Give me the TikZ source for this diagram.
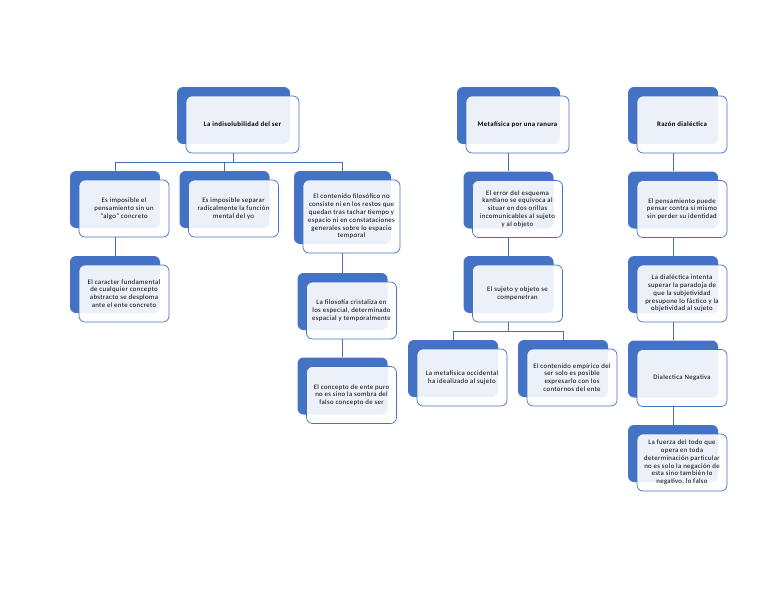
\documentclass[tikz,border=0pt]{standalone}
\usepackage{fontspec}
\setmainfont{Carlito}
\newfontfamily\boxfont[LetterSpace=5]{Carlito}
\usetikzlibrary{calc}
\definecolor{smblue}{HTML}{4472C4}
\definecolor{lnblue}{HTML}{4A6FB5}
\tikzset{
  backbox/.style={fill=smblue, draw=none, rounded corners=6pt, inner sep=0pt},
  frontbox/.style={draw=smblue, line width=0.7pt, fill=white, fill opacity=0.9, text opacity=1,
    rounded corners=6pt, inner sep=0pt, align=center, font=\boxfont\fontsize{6.8}{7.8}\selectfont, text=black},
  conn/.style={draw=lnblue, line width=0.7pt},
  titletext/.style={font=\boxfont\fontsize{6.8}{7.8}\selectfont\bfseries}
}
\newcommand\mkbox[7][]{%
  \node[backbox, minimum width=#5pt, minimum height=#6pt] (#2b) at (#3-9,#4-9) {};
  \node[frontbox, minimum width=#5pt, minimum height=#6pt, #1] (#2) at (#3,#4) {#7};
}
\begin{document}
\begin{tikzpicture}[x=1pt,y=-1pt]
\useasboundingbox (0,0) rectangle (768,594);
% left tree
\mkbox[titletext]{top1}{242.5}{124.5}{113}{57}{La indisolubilidad del ser}
\mkbox{a1}{124}{208.5}{90}{57}{Es imposible el\\pensamiento sin un\\“algo” concreto}
\mkbox{a2}{233.5}{208.5}{90}{57}{Es imposible separar\\radicalmente la función\\mental del yo}
\mkbox{a3}{351.5}{216.5}{97}{73}{El contenido filosófico no\\consiste ni en los restos que\\quedan tras tachar tiempo y\\espacio ni en constataciones\\generales sobre lo espacio\\temporal}
\mkbox{a1c}{124}{293.5}{90}{57}{El caracter fundamental\\de cualquier concepto\\abstracto se desploma\\ante el ente concreto}
\mkbox{a3c}{351.5}{310.5}{90}{57}{La filosofía cristaliza en\\los especial, determinado\\espacial y temporalmente}
\mkbox{a3cc}{351.5}{395}{90}{57}{El concepto de ente puro\\no es sino la sombra del\\falso concepto de ser}
% middle tree
\mkbox[titletext]{m0}{517.5}{124.5}{103}{57}{Metafísica por una ranura}
\mkbox{m1}{517.5}{209}{90}{57}{El error del esquema\\kantiano se equivoca al\\situar en dos orillas\\incomunicables al sujeto\\y al objeto}
\mkbox{m2}{517.5}{293.5}{90}{57}{El sujeto y objeto se\\compenetran}
\mkbox{m3}{462}{377.5}{90}{57}{La metafísica occidental\\ha idealizado al sujeto}
\mkbox{m4}{572}{377.5}{90}{57}{El contenido empírico del\\ser solo es posible\\expresarlo con los\\contornos del ente}
% right tree
\mkbox[titletext]{r0}{682}{124.5}{90}{57}{Razón dialéctica}
\mkbox{r1}{682}{209}{90}{57}{El pensamiento puede\\pensar contra sí mismo\\sin perder su identidad}
\mkbox{r2}{682}{293.5}{90}{57}{La dialéctica intenta\\superar la paradoja de\\que la subjetividad\\presupone lo fáctico y la\\objetividad al sujeto}
\mkbox{r3}{682}{378}{90}{57}{Dialectica Negativa}
\mkbox{r4}{682}{462.5}{90}{57}{La fuerza del todo que\\opera en toda\\determinación particular\\no es solo la negación de\\esta sino también lo\\negativo, lo falso}
% connectors
\coordinate (j1) at ($(top1.south)!0.5!(a1b.north)$);
\draw[conn] (top1b.south |- top1.south) -- (top1b.south |- j1);
\draw[conn] (a1b.north) -- (a1b.north |- j1) -- (a3b.north |- j1) -- (a3b.north);
\draw[conn] (a2b.north) -- (a2b.north |- j1);
\draw[conn] (a1b.south |- a1.south) -- (a1cb.north);
\draw[conn] (a3b.south |- a3.south) -- (a3cb.north);
\draw[conn] (a3cb.south |- a3c.south) -- (a3ccb.north);
\draw[conn] (m0b.south |- m0.south) -- (m1b.north);
\draw[conn] (m1b.south |- m1.south) -- (m2b.north);
\coordinate (j2) at ($(m2.south)!0.5!(m3b.north)$);
\draw[conn] (m2b.south |- m2.south) -- (m2b.south |- j2);
\draw[conn] (m3b.north) -- (m3b.north |- j2) -- (m4b.north |- j2) -- (m4b.north);
\draw[conn] (r0b.south |- r0.south) -- (r1b.north);
\draw[conn] (r1b.south |- r1.south) -- (r2b.north);
\draw[conn] (r2b.south |- r2.south) -- (r3b.north);
\draw[conn] (r3b.south |- r3.south) -- (r4b.north);
\end{tikzpicture}
\end{document}
